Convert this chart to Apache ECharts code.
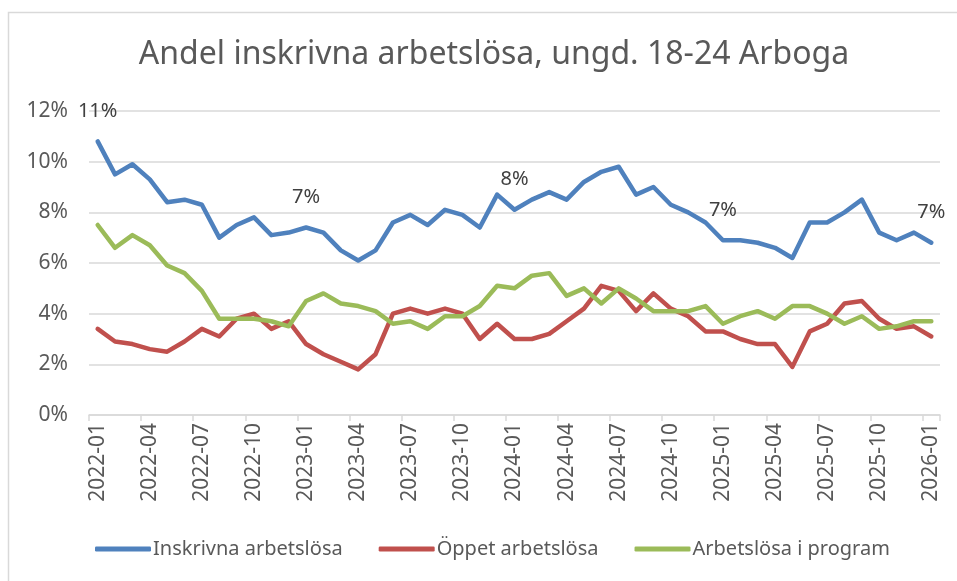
<!DOCTYPE html>
<html>
<head>
<meta charset="utf-8">
<script src="https://cdn.jsdelivr.net/npm/echarts@6/dist/echarts.min.js"></script>
<style>
    html, body { margin: 0; padding: 0; background: #fff; }
    #chart { width: 957px; height: 581px; }
</style>
</head>
<body>
<div id="chart"></div>
<script type="text/javascript">
    // månader 2022-01 .. 2026-01
    var months = [
        '2022-01', '2022-02', '2022-03', '2022-04', '2022-05', '2022-06', '2022-07', '2022-08', '2022-09', '2022-10', '2022-11', '2022-12',
        '2023-01', '2023-02', '2023-03', '2023-04', '2023-05', '2023-06', '2023-07', '2023-08', '2023-09', '2023-10', '2023-11', '2023-12',
        '2024-01', '2024-02', '2024-03', '2024-04', '2024-05', '2024-06', '2024-07', '2024-08', '2024-09', '2024-10', '2024-11', '2024-12',
        '2025-01', '2025-02', '2025-03', '2025-04', '2025-05', '2025-06', '2025-07', '2025-08', '2025-09', '2025-10', '2025-11', '2025-12',
        '2026-01'
    ];

    // andelar i procent
    var inskrivna = [
        10.8, 9.5, 9.9, 9.3, 8.4, 8.5, 8.3, 7.0, 7.5, 7.8, 7.1, 7.2,
        7.4, 7.2, 6.5, 6.1, 6.5, 7.6, 7.9, 7.5, 8.1, 7.9, 7.4, 8.7,
        8.1, 8.5, 8.8, 8.5, 9.2, 9.6, 9.8, 8.7, 9.0, 8.3, 8.0, 7.6,
        6.9, 6.9, 6.8, 6.6, 6.2, 7.6, 7.6, 8.0, 8.5, 7.2, 6.9, 7.2,
        6.8
    ];
    var oppet = [
        3.4, 2.9, 2.8, 2.6, 2.5, 2.9, 3.4, 3.1, 3.8, 4.0, 3.4, 3.7,
        2.8, 2.4, 2.1, 1.8, 2.4, 4.0, 4.2, 4.0, 4.2, 4.0, 3.0, 3.6,
        3.0, 3.0, 3.2, 3.7, 4.2, 5.1, 4.9, 4.1, 4.8, 4.2, 3.9, 3.3,
        3.3, 3.0, 2.8, 2.8, 1.9, 3.3, 3.6, 4.4, 4.5, 3.8, 3.4, 3.5,
        3.1
    ];
    var program = [
        7.5, 6.6, 7.1, 6.7, 5.9, 5.6, 4.9, 3.8, 3.8, 3.8, 3.7, 3.5,
        4.5, 4.8, 4.4, 4.3, 4.1, 3.6, 3.7, 3.4, 3.9, 3.9, 4.3, 5.1,
        5.0, 5.5, 5.6, 4.7, 5.0, 4.4, 5.0, 4.6, 4.1, 4.1, 4.1, 4.3,
        3.6, 3.9, 4.1, 3.8, 4.3, 4.3, 4.0, 3.6, 3.9, 3.4, 3.5, 3.7,
        3.7
    ];

    // etiketter visas för varje januari
    var labelIndex = [0, 12, 24, 36, 48];

    var font = 'Noto Sans';
    var grey = '#595959';

    var chart = echarts.init(document.getElementById('chart'));

    function lineSeries(name, data, color, withLabels) {
        return {
            name: name,
            type: 'line',
            data: data,
            symbol: 'circle',
            symbolSize: 0.1,
            showSymbol: true,
            showAllSymbol: true,
            itemStyle: {color: color},
            lineStyle: {color: color, width: 4.5, cap: 'round', join: 'round'},
            emphasis: {disabled: true},
            label: {
                show: withLabels,
                position: 'top',
                distance: 20,
                fontFamily: font,
                fontSize: 20,
                color: '#404040',
                formatter: function (p) {
                    return labelIndex.indexOf(p.dataIndex) >= 0 ? Math.round(p.value) + '%' : '';
                }
            },
            z: withLabels ? 3 : 2
        };
    }

    chart.setOption({
        animation: false,
        title: {
            text: 'Andel inskrivna arbetslösa, ungd. 18-24 Arboga',
            left: 489,
            top: 34,
            textAlign: 'center',
            textStyle: {fontFamily: font, fontSize: 32, fontWeight: 'normal', color: grey}
        },
        graphic: [{
            type: 'rect',
            shape: {x: 8.5, y: 12.5, width: 1200, height: 1200},
            style: {fill: 'none', stroke: '#d9d9d9', lineWidth: 1.5},
            silent: true
        }],
        legend: {
            bottom: 17,
            left: 90,
            itemWidth: 56,
            itemHeight: 5,
            itemGap: 36,
            icon: 'roundRect',
            textStyle: {fontFamily: font, fontSize: 20, color: grey, padding: [0, 0, 0, -3]},
            data: ['Inskrivna arbetslösa', 'Öppet arbetslösa', 'Arbetslösa i program']
        },
        grid: {
            left: 89,
            right: 17,
            top: 111,
            bottom: 166,
            containLabel: false
        },
        xAxis: {
            type: 'category',
            data: months,
            boundaryGap: true,
            axisLine: {lineStyle: {color: '#d9d9d9', width: 1.5}},
            axisTick: {show: true, interval: 2, length: 6, lineStyle: {color: '#d9d9d9', width: 1.5}},
            axisLabel: {
                interval: 2,
                rotate: 90,
                margin: 8,
                fontFamily: font,
                fontSize: 21,
                color: grey
            }
        },
        yAxis: {
            type: 'value',
            min: 0,
            max: 12,
            interval: 2,
            axisLine: {show: false},
            axisTick: {show: false},
            splitLine: {lineStyle: {color: '#d9d9d9', width: 1.5}},
            axisLabel: {
                formatter: '{value}%',
                margin: 21,
                fontFamily: font,
                fontSize: 21,
                color: grey
            }
        },
        series: [
            lineSeries('Inskrivna arbetslösa', inskrivna, '#4F81BD', true),
            lineSeries('Öppet arbetslösa', oppet, '#C0504D', false),
            lineSeries('Arbetslösa i program', program, '#9BBB59', false)
        ]
    });
</script>
</body>
</html>
